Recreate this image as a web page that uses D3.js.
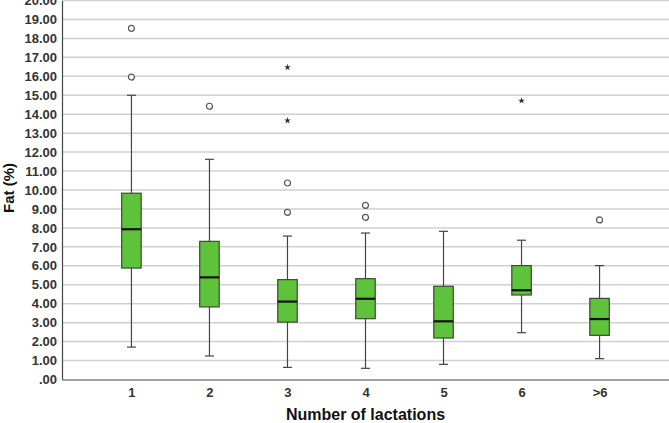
<!DOCTYPE html>
<html>
<head>
<meta charset="utf-8">
<script src="https://cdn.jsdelivr.net/npm/d3@7"></script>
<style>
    body { margin: 0; background: #fff; }
    svg { display: block; font-family: Arial, "Liberation Sans", sans-serif; }
    .tick-label { font-size: 13px; font-weight: bold; fill: #333; }
    .axis-title { font-size: 16px; font-weight: bold; fill: #111; }
</style>
</head>
<body>
<div id="chart"></div>
<script>
const categories = ["1", "2", "3", "4", "5", "6", ">6"];
const whiskerLow = [1.71, 1.24, 0.64, 0.59, 0.80, 2.47, 1.10];
const q1 = [5.88, 3.83, 3.03, 3.21, 2.19, 4.46, 2.33];
const median = [7.93, 5.39, 4.11, 4.26, 3.07, 4.71, 3.19];
const q3 = [9.83, 7.29, 5.27, 5.32, 4.92, 6.01, 4.28];
const whiskerHigh = [15.0, 11.62, 7.57, 7.73, 7.82, 7.35, 6.01];
const outliers = [[18.53, 15.96], [14.42], [10.37, 8.82], [9.19, 8.56], [], [], [8.42]];
const extremes = [[], [], [16.47, 13.66], [], [], [14.71], []];
const yTicks = d3.range(0, 21, 1);

const width = 669;
const height = 423;
const marginLeft = 62;
const marginRight = 0;
const plotTop = 0.5;
const plotBottom = 379.5;

const svg = d3.select("#chart").append("svg")
    .attr("width", width)
    .attr("height", height);

const yScale = d3.scaleLinear([0, 20], [plotBottom, plotTop]);
const xScale = d3.scalePoint(categories, [marginLeft, width - marginRight]).padding(0.89);

const boxWidth = 19.5;
const capWidth = 9;

// grid lines
svg.append("g")
    .selectAll("line")
    .data(yTicks.filter(d => d > 0))
    .join("line")
    .attr("x1", marginLeft)
    .attr("x2", width)
    .attr("y1", d => yScale(d))
    .attr("y2", d => yScale(d))
    .attr("stroke", "#d0d0d0")
    .attr("stroke-width", 1.5);

// y axis
const yAxis = d3.axisLeft(yScale)
    .tickValues(yTicks)
    .tickSize(0)
    .tickPadding(5)
    .tickFormat(d => d === 0 ? ".00" : d3.format(".2f")(d));

const gy = svg.append("g")
    .attr("transform", `translate(${marginLeft},0)`)
    .call(yAxis);
gy.select(".domain").attr("stroke", "#444").attr("stroke-width", 1.2);
gy.selectAll("text").attr("class", "tick-label").attr("font-size", null).attr("font-family", null);

// x axis
const xAxis = d3.axisBottom(xScale).tickSize(0).tickPadding(8);
const gx = svg.append("g")
    .attr("transform", `translate(0,${plotBottom})`)
    .call(xAxis);
gx.select(".domain").attr("stroke", "#444").attr("stroke-width", 1.2);
gx.selectAll("text").attr("class", "tick-label").attr("font-size", null).attr("font-family", null);

const boxes = categories.map((c, i) => ({
    cat: c,
    lo: whiskerLow[i], q1: q1[i], med: median[i], q3: q3[i], hi: whiskerHigh[i],
    outliers: outliers[i], extremes: extremes[i]
}));

const g = svg.append("g")
    .selectAll("g")
    .data(boxes)
    .join("g")
    .attr("transform", d => `translate(${xScale(d.cat)},0)`);

// whiskers
g.append("line")
    .attr("x1", 0).attr("x2", 0)
    .attr("y1", d => yScale(d.hi)).attr("y2", d => yScale(d.q3))
    .attr("stroke", "#444").attr("stroke-width", 1.2);
g.append("line")
    .attr("x1", 0).attr("x2", 0)
    .attr("y1", d => yScale(d.q1)).attr("y2", d => yScale(d.lo))
    .attr("stroke", "#444").attr("stroke-width", 1.2);
g.append("line")
    .attr("x1", -capWidth / 2).attr("x2", capWidth / 2)
    .attr("y1", d => yScale(d.hi)).attr("y2", d => yScale(d.hi))
    .attr("stroke", "#444").attr("stroke-width", 1.2);
g.append("line")
    .attr("x1", -capWidth / 2).attr("x2", capWidth / 2)
    .attr("y1", d => yScale(d.lo)).attr("y2", d => yScale(d.lo))
    .attr("stroke", "#444").attr("stroke-width", 1.2);

// boxes
g.append("rect")
    .attr("x", -boxWidth / 2)
    .attr("width", boxWidth)
    .attr("y", d => yScale(d.q3))
    .attr("height", d => yScale(d.q1) - yScale(d.q3))
    .attr("fill", "#5ec23b")
    .attr("stroke", "#3b4a35")
    .attr("stroke-width", 1.2);

// medians
g.append("line")
    .attr("x1", -boxWidth / 2).attr("x2", boxWidth / 2)
    .attr("y1", d => yScale(d.med)).attr("y2", d => yScale(d.med))
    .attr("stroke", "#111").attr("stroke-width", 2.2);

// outliers
g.selectAll("circle")
    .data(d => d.outliers)
    .join("circle")
    .attr("cx", 0)
    .attr("cy", d => yScale(d))
    .attr("r", 3)
    .attr("fill", "#fff")
    .attr("stroke", "#555")
    .attr("stroke-width", 1.2);

// extremes
g.selectAll(".star")
    .data(d => d.extremes)
    .join("path")
    .attr("class", "star")
    .attr("transform", d => `translate(0,${yScale(d)})`)
    .attr("d", d3.symbol(d3.symbolStar, 14))
    .attr("fill", "#333");

// axis titles
svg.append("text")
    .attr("class", "axis-title")
    .attr("text-anchor", "middle")
    .attr("x", (marginLeft + width) / 2)
    .attr("y", 420)
    .text("Number of lactations");

svg.append("text")
    .attr("class", "axis-title")
    .attr("text-anchor", "middle")
    .style("font-size", "15px")
    .attr("transform", `translate(14,188) rotate(-90)`)
    .text("Fat (%)");
</script>
</body>
</html>
